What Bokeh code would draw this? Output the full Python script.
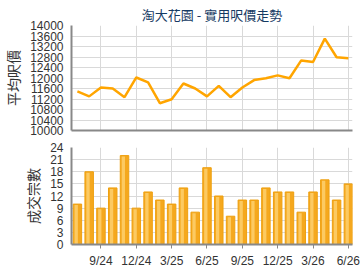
from bokeh.plotting import figure
from bokeh.layouts import column
from bokeh.models import FixedTicker, Range1d, Title
from bokeh.embed import file_html
from bokeh.resources import INLINE

months = ["7/24", "8/24", "9/24", "10/24", "11/24", "12/24", "1/25", "2/25", "3/25",
          "4/25", "5/25", "6/25", "7/25", "8/25", "9/25", "10/25", "11/25", "12/25",
          "1/26", "2/26", "3/26", "4/26", "5/26", "6/26"]
price = [11490, 11300, 11640, 11600, 11270, 12020, 11830, 11040, 11190, 11790,
         11600, 11300, 11700, 11270, 11640, 11920, 11990, 12100, 11990, 12670,
         12610, 13500, 12790, 12750]
deals = [10, 18, 9, 14, 22, 9, 13, 11, 10, 14, 8, 19, 12, 7, 11, 11, 14, 13, 13,
         8, 13, 16, 11, 15]
tick_months = ["9/24", "12/24", "3/25", "6/25", "9/25", "12/25", "3/26", "6/26"]
price_ticks = list(range(10000, 14001, 400))
deal_ticks = list(range(0, 25, 3))

xs = list(range(len(months)))
tick_idx = [months.index(m) for m in tick_months]
overrides = {i: months[i] for i in tick_idx}

FONT = "Liberation Sans"
GRID = "#d9d9d9"


def style(p, ylabel, yticks):
    p.xgrid.ticker = FixedTicker(ticks=tick_idx)
    p.ygrid.ticker = FixedTicker(ticks=yticks)
    p.xgrid.grid_line_color = GRID
    p.ygrid.grid_line_color = GRID
    p.outline_line_color = None
    p.xaxis.ticker = FixedTicker(ticks=tick_idx)
    p.xaxis.major_label_overrides = overrides
    p.yaxis.ticker = FixedTicker(ticks=yticks)
    p.yaxis.axis_label = ylabel
    p.yaxis.axis_label_text_font = "Noto Sans CJK TC"
    p.yaxis.axis_label_text_font_size = "14px"
    p.yaxis.axis_label_text_font_style = "normal"
    p.yaxis.axis_label_text_color = "#333333"
    p.yaxis.axis_label_standoff = 4
    for ax in (p.xaxis, p.yaxis):
        ax.major_label_text_font = FONT
        ax.major_label_text_font_size = "12px"
        ax.major_label_text_color = "#333333"
        ax.minor_tick_line_color = None
        ax.axis_line_color = "#888888"
        ax.axis_line_width = 2
    p.yaxis.major_tick_line_color = None
    p.yaxis.major_label_standoff = 2
    p.xaxis.major_tick_line_color = "#888888"
    p.xaxis.major_tick_in = 0
    p.xaxis.major_tick_out = 4


p1 = figure(width=360, height=138, output_backend="svg", toolbar_location=None,
            x_range=Range1d(-0.5, 23.35), y_range=Range1d(10000, 14000),
            min_border_left=66, min_border_right=8, min_border_top=25, min_border_bottom=8)
p1.add_layout(Title(text="淘大花園 - 實用呎價走勢", align="center",
                    text_font="Noto Sans CJK TC", text_font_size="13px",
                    text_font_style="normal", text_color="#153a63",
                    offset=0, standoff=3), "above")
style(p1, "平均呎價", price_ticks)
p1.xaxis.ticker = FixedTicker(ticks=[])
p1.line(xs, price, line_color="#ffa500", line_width=2.5)

p2 = figure(width=360, height=132, output_backend="svg", toolbar_location=None,
            x_range=Range1d(-0.5, 23.35), y_range=Range1d(0, 24),
            min_border_left=66, min_border_right=8, min_border_top=9, min_border_bottom=26)
style(p2, "成交宗數", deal_ticks)
p2.vbar(x=xs, top=deals, width=0.72, fill_color="#f5a81e", line_color="#eea010", line_width=1)
p2.vbar(x=[x - 0.1 for x in xs], top=[d - 0.25 for d in deals], width=0.28,
        fill_color="#fcca62", line_color=None)

layout = column(p1, p2, spacing=0)
open("out.html", "w").write(file_html(layout, INLINE))
